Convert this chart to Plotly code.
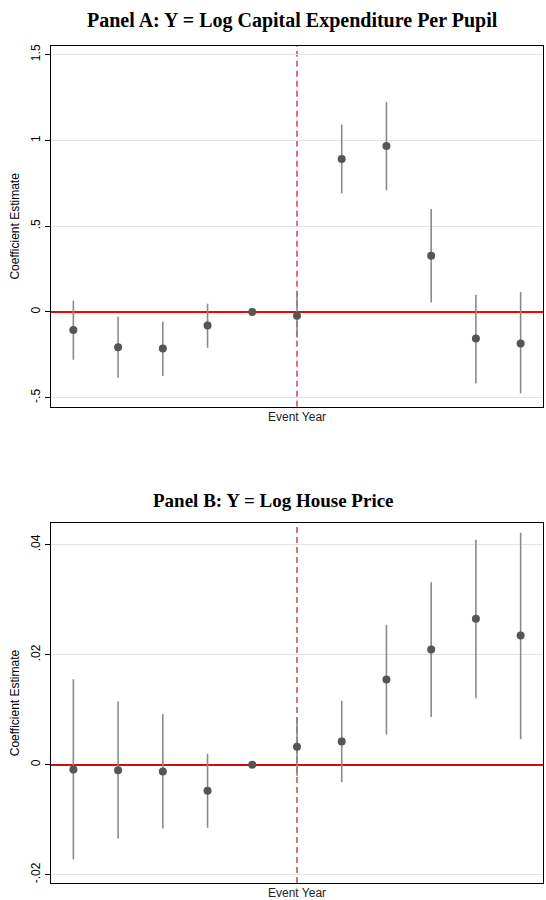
import plotly.graph_objects as go

event_years = [-5, -4, -3, -2, -1, 0, 1, 2, 3, 4, 5]

# Panel A: log capital expenditure per pupil
a_est = [-0.105, -0.206, -0.213, -0.080, 0.0, -0.023, 0.891, 0.967, 0.327, -0.155, -0.184]
a_lo = [-0.279, -0.384, -0.374, -0.209, 0.0, -0.150, 0.690, 0.709, 0.054, -0.417, -0.475]
a_hi = [0.067, -0.029, -0.058, 0.047, 0.0, 0.120, 1.093, 1.223, 0.600, 0.100, 0.116]

# Panel B: log house price
b_est = [-0.00085, -0.00098, -0.00122, -0.00473, 0.0, 0.00327, 0.00424, 0.0155, 0.02096, 0.02655, 0.0235]
b_lo = [-0.0172, -0.0134, -0.0116, -0.01145, 0.0, -0.0021, -0.00316, 0.0055, 0.0087, 0.0121, 0.00465]
b_hi = [0.01556, 0.0115, 0.0092, 0.0020, 0.0, 0.0087, 0.01163, 0.02545, 0.0332, 0.0409, 0.0422]

a_ticks = [-0.5, 0, 0.5, 1, 1.5]
a_ticktext = ["-.5", "0", ".5", "1", "1.5"]
b_ticks = [-0.02, 0, 0.02, 0.04]
b_ticktext = ["-.02", "0", ".02", ".04"]

title_a = "Panel A: Y = Log Capital Expenditure Per Pupil"
title_b = "Panel B: Y = Log House Price"

fig = go.Figure()

def add_panel(est, lo, hi, xa, ya):
    plus = [h - e for h, e in zip(hi, est)]
    minus = [e - l for e, l in zip(est, lo)]
    fig.add_trace(go.Scatter(
        x=event_years, y=est, mode="markers",
        marker=dict(color="#555555", size=8),
        error_y=dict(type="data", array=plus, arrayminus=minus, symmetric=False,
                     color="#8a8a8a", thickness=1.6, width=0),
        xaxis=xa, yaxis=ya, showlegend=False,
    ))

add_panel(a_est, a_lo, a_hi, "x", "y")
add_panel(b_est, b_lo, b_hi, "x2", "y2")

font_sans = "Liberation Sans, Arial, sans-serif"
axis_common = dict(showline=True, linecolor="black", linewidth=1.2, mirror=True,
                   automargin=False)

dom_a = [0.569, 1.0]
dom_b = [0.0, 0.430]

yaxis_common = dict(tickangle=-90, ticks="outside", ticklen=5, tickcolor="black",
                    showgrid=True, gridcolor="#e3e3e3", gridwidth=1,
                    zeroline=True, zerolinewidth=1.5,
                    tickfont=dict(size=12), **axis_common)

fig.update_layout(
    width=546, height=900,
    margin=dict(l=51, r=3, t=46, b=17),
    plot_bgcolor="white", paper_bgcolor="white",
    font=dict(family=font_sans, size=12, color="black"),
    xaxis=dict(domain=[0, 1], range=[-5.5, 5.5], showticklabels=False, ticks="",
               showgrid=False, zeroline=False, anchor="y", **axis_common),
    yaxis=dict(domain=dom_a, range=[-0.553, 1.55], tickvals=a_ticks, ticktext=a_ticktext,
               zerolinecolor="#ff0000", anchor="x",
               title=dict(text="Coefficient Estimate", standoff=6, font=dict(size=12)),
               **yaxis_common),
    xaxis2=dict(domain=[0, 1], range=[-5.5, 5.5], showticklabels=False, ticks="",
                showgrid=False, zeroline=False, anchor="y2", **axis_common),
    yaxis2=dict(domain=dom_b, range=[-0.0215, 0.04395], tickvals=b_ticks, ticktext=b_ticktext,
                zerolinecolor="#cc1010", anchor="x2",
                title=dict(text="Coefficient Estimate", standoff=6, font=dict(size=12)),
                **yaxis_common),
)

shapes = []
# event line at year 0
shapes.append(dict(type="line", xref="x", yref="y domain", x0=0, x1=0, y0=0, y1=1,
                   line=dict(color="#c8102e", width=1.2, dash="6px,4px"), layer="below"))
shapes.append(dict(type="line", xref="x2", yref="y2 domain", x0=0, x1=0, y0=0, y1=1,
                   line=dict(color="#b22222", width=1.2, dash="6px,4px"), layer="below"))
fig.update_layout(shapes=shapes)

serif = "Liberation Serif, Times New Roman, serif"
annotations = [
    dict(text="<b>" + title_a + "</b>", xref="paper", yref="paper", x=0.49, y=1.0,
         xanchor="center", yanchor="middle", yshift=26, showarrow=False,
         font=dict(family=serif, size=20, color="black")),
    dict(text="<b>" + title_b + "</b>", xref="paper", yref="paper", x=0.452, y=dom_b[1],
         xanchor="center", yanchor="middle", yshift=23, showarrow=False,
         font=dict(family=serif, size=19, color="black")),
    dict(text="Event Year", xref="paper", yref="paper", x=0.5, y=dom_a[0],
         xanchor="center", yanchor="top", yshift=-1, showarrow=False,
         font=dict(family=font_sans, size=12, color="#222222")),
    dict(text="Event Year", xref="paper", yref="paper", x=0.5, y=dom_b[0],
         xanchor="center", yanchor="top", yshift=-1, showarrow=False,
         font=dict(family=font_sans, size=12, color="#222222")),
]
fig.update_layout(annotations=annotations)

fig.write_html("out.html", config={"displayModeBar": False},
               post_script="document.body.style.margin='0';")
